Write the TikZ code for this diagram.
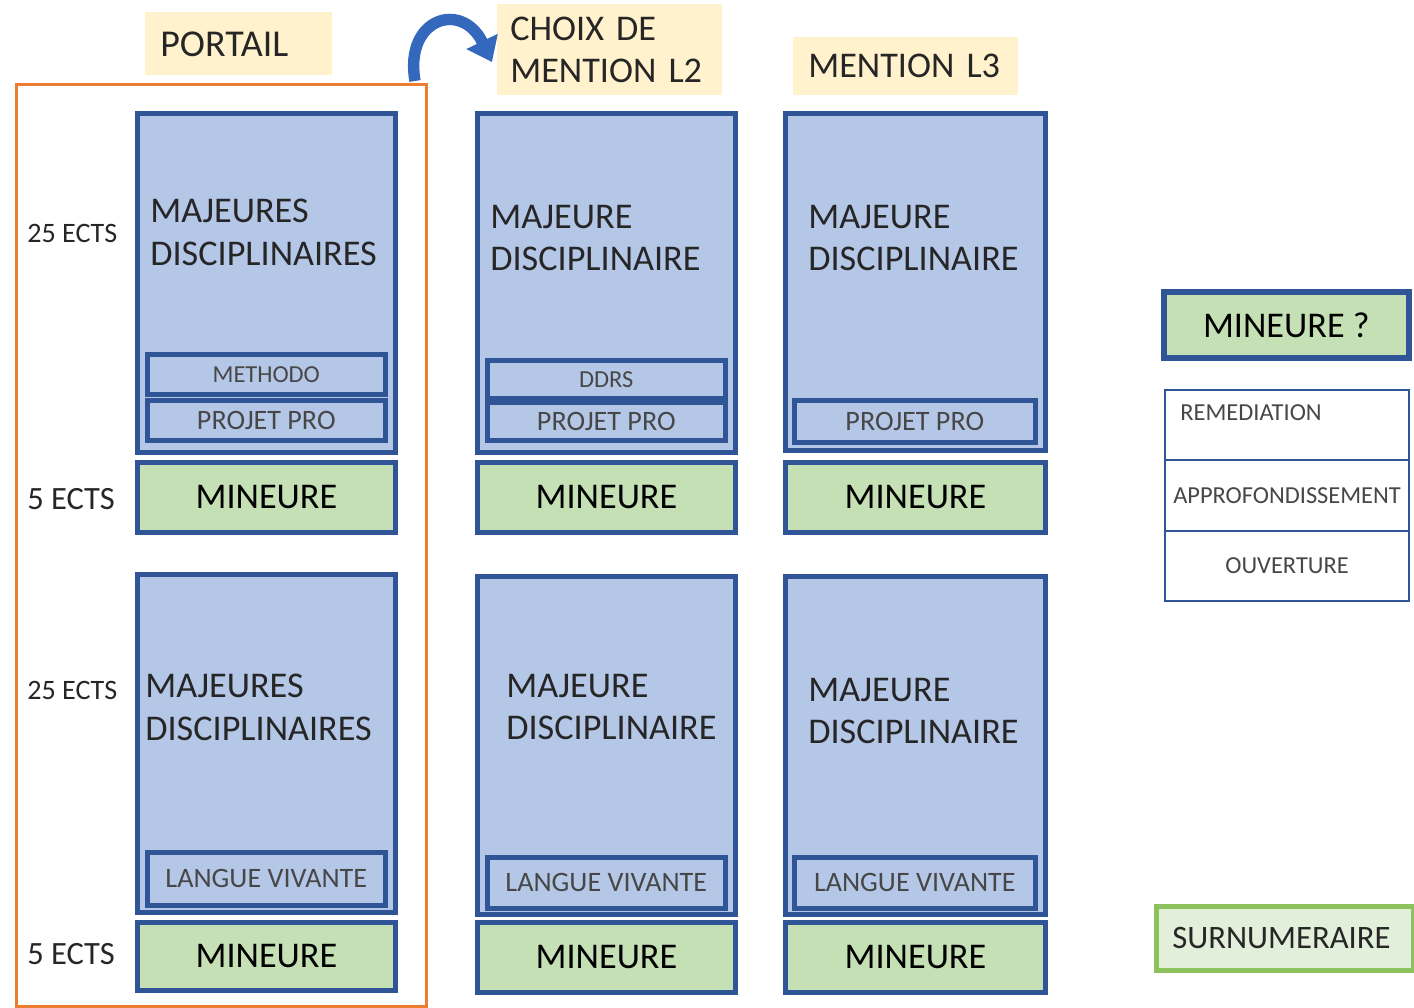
\documentclass[tikz,border=0pt]{standalone}
\usepackage{fontspec}
\setmainfont{Carlito}
\usetikzlibrary{arrows.meta}
\definecolor{bleu}{HTML}{B4C7E7}
\definecolor{bord}{HTML}{2F5597}
\definecolor{vert}{HTML}{C5E0B4}
\definecolor{vertclair}{HTML}{E2EFDA}
\definecolor{vertbord}{HTML}{8CC25E}
\definecolor{jaune}{HTML}{FFF2CC}
\definecolor{cadre}{HTML}{ED7D31}
\definecolor{fleche}{HTML}{3468BC}
\definecolor{txt}{HTML}{262626}

\begin{document}
\begin{tikzpicture}[x=0.02cm, y=-0.02cm,
    sz/.style 2 args={minimum width=#1*0.02cm, minimum height=#2*0.02cm, inner sep=0pt, anchor=north west},
    maj/.style={draw=bord, fill=bleu, line width=2.8pt},
    sub/.style={draw=bord, fill=bleu, line width=2.6pt, text=txt!85, font=\fontsize{16}{18}\selectfont},
    mineure/.style={draw=bord, fill=vert, line width=2.8pt, text=black, font=\fontsize{20.6}{24}\selectfont},
    titre/.style={fill=jaune, align=left, text=txt, font=\fontsize{20.6}{24.4}\selectfont},
    texte/.style={anchor=west, align=left, inner sep=0pt, text=txt, font=\fontsize{20.6}{24.4}\selectfont},
    ects/.style={anchor=west, inner sep=0pt, text=txt, font=\fontsize{16}{18}\selectfont},
    liste/.style={draw=bord, fill=white, line width=1.2pt, text=txt!85, font=\fontsize{13.9}{16}\selectfont}]

    \useasboundingbox (0,0) rectangle (1414,1008);

    \node[titre, sz={187}{63}, text width=3.14cm, font=\fontsize{21.6}{25}\selectfont] (portail) at (145,12) {PORTAIL};
    \node[titre, sz={225}{91}, text width=3.98cm] (choix) at (497,4) {CHOIX DE\\MENTION L2};
    \node[titre, sz={225}{58}, text width=3.9cm] (l3) at (793,37) {MENTION L3};

    \node[draw=cadre, line width=1.7pt, sz={410}{922}] (cadreP) at (15,83) {};

    \coordinate (depart) at (415,81);
    \coordinate (arrivee) at (492,62);
    \draw[fleche, line width=6.5pt, -{Triangle[length=13pt, width=19pt]}] (depart) .. controls (404,18) and (462,0) .. (arrivee);

    \node[ects] (e1) at (27,233) {25 ECTS};
    \node[ects, font=\fontsize{18.5}{21}\selectfont] (e2) at (27,499) {5 ECTS};
    \node[ects] (e3) at (27,690) {25 ECTS};
    \node[ects, font=\fontsize{18.5}{21}\selectfont] (e4) at (27,954) {5 ECTS};

    \node[maj, sz={258}{339}] (maj1) at (135,111) {};
    \node[texte] (tmaj1) at (150,232) {MAJEURES\\DISCIPLINAIRES};
    \node[sub, sz={238}{40}, font=\fontsize{13.9}{16}\selectfont] (meth1) at (145,352) {METHODO};
    \node[sub, sz={238}{40}] (pp1) at (145,398) {PROJET PRO};
    \node[mineure, sz={258}{70}] (min1) at (135,460) {MINEURE};
    \node[maj, sz={258}{338}] (maj2) at (135,572) {};
    \node[texte] (tmaj2) at (145,707) {MAJEURES\\DISCIPLINAIRES};
    \node[sub, sz={238}{53}] (lv1) at (145,850) {LANGUE VIVANTE};
    \node[mineure, sz={258}{68}] (min2) at (135,920) {MINEURE};

    \node[maj, sz={258}{339}] (maj3) at (475,111) {};
    \node[texte] (tmaj3) at (490,238) {MAJEURE\\DISCIPLINAIRE};
    \node[sub, sz={238}{38}, font=\fontsize{13.9}{16}\selectfont] (ddrs2) at (485,358) {DDRS};
    \node[sub, sz={238}{38}] (pp2) at (485,400) {PROJET PRO};
    \node[mineure, sz={258}{70}] (min3) at (475,460) {MINEURE};
    \node[maj, sz={258}{338}] (maj4) at (475,574) {};
    \node[texte] (tmaj4) at (506,707) {MAJEURE\\DISCIPLINAIRE};
    \node[sub, sz={238}{51}] (lv2) at (485,855) {LANGUE VIVANTE};
    \node[mineure, sz={258}{70}] (min4) at (475,920) {MINEURE};

    \node[maj, sz={260}{337}] (maj5) at (783,111) {};
    \node[texte] (tmaj5) at (808,238) {MAJEURE\\DISCIPLINAIRE};
    \node[sub, sz={241}{42}] (pp3) at (792,398) {PROJET PRO};
    \node[mineure, sz={260}{70}] (min5) at (783,460) {MINEURE};
    \node[maj, sz={260}{338}] (maj6) at (783,574) {};
    \node[texte] (tmaj6) at (808,711) {MAJEURE\\DISCIPLINAIRE};
    \node[sub, sz={241}{51}] (lv3) at (792,855) {LANGUE VIVANTE};
    \node[mineure, sz={260}{70}] (min6) at (783,920) {MINEURE};

    \node[mineure, line width=3.2pt, sz={245}{66}] (minq) at (1161,289) {MINEURE ?};
    \node[liste, sz={244}{70}] (rem) at (1164,389) {};
    \node[ects, text=txt!85, font=\fontsize{13.9}{16}\selectfont] (trem) at (1180,413) {REMEDIATION};
    \node[liste, sz={244}{71}] (appro) at (1164,459) {APPROFONDISSEMENT};
    \node[liste, sz={244}{70}] (ouv) at (1164,530) {OUVERTURE};

    \node[draw=vertbord, fill=vertclair, line width=2.6pt, sz={257}{64}, text width=4.5cm, align=left, text=txt, font=\fontsize{18.6}{22}\selectfont] (surn) at (1154,904) {SURNUMERAIRE};

\end{tikzpicture}
\end{document}
